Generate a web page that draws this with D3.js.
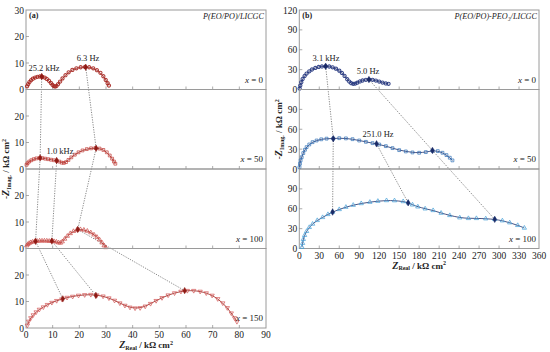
<!DOCTYPE html>
<html>
<head>
<meta charset="utf-8">
<script src="https://cdn.jsdelivr.net/npm/d3@7"></script>
<style>
body { margin: 0; background: #fff; }
</style>
</head>
<body>
<svg id="chart" width="550" height="352" font-family="'Liberation Serif', 'Times New Roman', 'DejaVu Serif', serif"></svg>
<script>
// ---- data (kΩ cm²) ----
// panel (a) P(EO/PO)/LICGC
const a0 = [[0.4,1.2],[0.8,2.0],[1.3,2.8],[1.9,3.5],[2.6,4.1],[3.4,4.5],[4.3,4.8],[5.2,4.9],[6.1,4.8],[7.0,4.5],[7.8,4.0],[8.6,3.3],[9.3,2.5],[9.9,1.8],[10.4,1.3],[10.9,1.1],[11.4,1.3],[12.0,2.0],[12.8,3.0],[13.7,4.2],[14.8,5.4],[16.0,6.5],[17.4,7.4],[18.9,8.0],[20.5,8.4],[22.1,8.5],[23.7,8.4],[25.2,8.0],[26.6,7.3],[27.9,6.3],[29.0,5.0],[29.9,3.6],[30.6,2.4],[31.1,1.5]];
const a50 = [[0.2,1.6],[0.6,2.2],[1.2,2.8],[2.0,3.3],[2.9,3.7],[3.9,4.0],[5.0,4.1],[6.1,4.1],[7.2,3.9],[8.3,3.7],[9.4,3.5],[10.5,3.3],[11.5,3.1],[12.5,2.8],[13.4,2.4],[14.2,2.3],[15.0,2.6],[15.9,3.4],[17.0,4.4],[18.3,5.4],[19.7,6.3],[21.2,7.0],[22.8,7.5],[24.4,7.8],[26.0,7.9],[27.6,7.7],[29.0,7.2],[30.3,6.3],[31.4,5.1],[32.3,3.9],[33.0,2.8],[33.5,2.0]];
const a100 = [[0.3,1.1],[0.7,1.6],[1.2,2.0],[1.8,2.3],[2.5,2.5],[3.3,2.7],[4.2,2.8],[5.1,2.9],[6.0,2.9],[6.9,2.9],[7.8,2.9],[8.7,2.8],[9.6,2.8],[10.5,2.7],[11.4,2.5],[12.2,2.2],[12.9,2.1],[13.6,2.6],[14.5,3.6],[15.5,4.7],[16.6,5.7],[17.8,6.5],[19.1,7.0],[20.4,7.2],[21.7,7.0],[23.0,6.6],[24.3,6.0],[25.5,5.2],[26.6,4.3],[27.6,3.3],[28.5,2.2],[29.3,1.1],[29.9,0.4]];
const a150 = [[0.5,1.0],[1.0,2.5],[1.8,3.8],[2.7,4.9],[3.8,6.0],[5.0,7.0],[6.5,7.9],[8.0,8.8],[9.7,9.6],[11.5,10.3],[13.4,10.9],[15.4,11.5],[17.5,11.9],[19.7,12.3],[22.0,12.5],[24.3,12.6],[26.6,12.4],[28.9,12.0],[31.1,11.3],[33.2,10.4],[35.2,9.4],[37.1,8.5],[39.0,7.8],[40.9,7.5],[42.8,7.6],[44.7,8.2],[46.7,9.2],[48.8,10.3],[51.0,11.4],[53.3,12.4],[55.7,13.2],[58.1,13.8],[60.5,14.1],[62.9,14.1],[65.3,13.8],[67.6,13.2],[69.8,12.3],[71.9,11.0],[73.8,9.4],[75.5,7.6],[77.0,5.6],[78.2,3.8],[79.1,2.4]];

// panel (b) P(EO/PO)-PEO3/LICGC
const b0 = [[0.5,1.5],[1.5,6],[3,11],[5,16],[8,20.5],[11,24],[15,27.5],[19,30.2],[24,32.5],[29,34],[34,34.8],[39.6,35],[45,34.7],[50,33.5],[55,31.5],[60,28.5],[64,25],[68,20.5],[72,15.5],[75,12],[78,9.5],[81,8.6],[84,9.0],[87,10.3],[91,12.2],[95,13.6],[100,14.6],[105,15],[110,14.6],[115,13.5],[120,12],[125,10.5],[130,9.2],[134,8.6]];
const b50 = [[0.3,2.7],[1,8],[2,13],[3.6,17.8],[6,24],[8.5,29],[11,33],[15,37],[20,40.5],[26,43],[33,44.8],[41,45.8],[51,46],[60,46.5],[70,46.2],[80,45],[90,43],[100,41],[110,39],[120,37],[130,34.5],[140,31.5],[150,28.5],[160,26.5],[170,25],[180,24.5],[190,25.5],[200,27.5],[208,27],[215,24.5],[221,21],[226,17],[230,13]];
const b100 = [[4,2],[5,8],[6,14],[8,20],[11,26],[15,32],[20,37],[27,42.5],[35,47],[43,51.5],[50,55],[60,59],[70,62.5],[81,65.5],[93,68],[106,70],[118,71.5],[131,72.5],[143,72.3],[156,71],[163.5,69],[170,66],[178,63],[189,60],[201,57.5],[213,53.5],[226,50],[241,46.5],[254,45.5],[266,45.5],[280,45],[293.5,44],[305,42],[316,39],[328,35],[338,31]];

// characteristic-frequency points: [subplot index, Zre, Zim]
const a25k = [[0,5.9,4.9],[1,5.3,4.2],[2,3.6,2.7],[3,13.8,11.0]];
const a1k = [[1,11.5,3.2],[2,9.7,2.8],[3,26.2,12.3]];
const a6Hz = [[0,22.4,8.4],[1,26.3,7.8],[2,19.4,7.2],[3,59.5,14.1]];
const b3k = [[0,39.6,35],[1,51,45.7],[2,50,55]];
const b251 = [[1,116,38],[2,163.5,69]];
const b5Hz = [[0,104.6,15],[1,200,28],[2,293.5,44]];

const aLabels = ["x = 0", "x = 50", "x = 100", "x = 150"];
const bLabels = ["x = 0", "x = 50", "x = 100"];
const aTicksX = d3.range(0, 91, 10);
const bTicksX = d3.range(0, 361, 30);

const svg = d3.select("#chart");
const frameColor = "#9a9a9a";
const ink = "#222";

const panels = [
  { left: 26, right: 266, top: 10, h: 79.5, xMax: 90, yMax: 30, yStep: 10, xTicks: aTicksX,
    series: [a0, a50, a100, a150], labels: aLabels,
    color: ["#a82822","#c23c36","#cc4a46","#d45656"], dark: "#8e1a14",
    symbols: [d3.symbolCircle, d3.symbolSquare, d3.symbolTriangle, d3.symbolTriangle],
    flip: [false, false, false, true], chains: [a25k, a1k, a6Hz], tag: "(a)", name: "P(EO/PO)/LICGC" },
  { left: 299.3, right: 539, top: 10, h: 79.5, xMax: 360, yMax: 120, yStep: 30, xTicks: bTicksX,
    series: [b0, b50, b100], labels: bLabels,
    color: ["#24357e","#3474b8","#45a0d8"], dark: "#1a2a66",
    symbols: [d3.symbolCircle, d3.symbolSquare, d3.symbolTriangle],
    flip: [false, false, false], chains: [b3k, b251, b5Hz], tag: "(b)", name: "P(EO/PO)-PEO\u2083/LICGC" }
];

panels.forEach(p => {
  const n = p.series.length;
  const x = d3.scaleLinear().domain([0, p.xMax]).range([p.left, p.right]);
  const ys = d3.range(n).map(i => d3.scaleLinear().domain([0, p.yMax])
      .range([p.top + (i + 1) * p.h, p.top + i * p.h]));
  const bottom = p.top + n * p.h;
  const g = svg.append("g");

  // dotted lines linking characteristic frequencies
  p.chains.forEach(c => {
    g.append("path")
      .attr("d", d3.line().x(d => x(d[1])).y(d => ys[d[0]](d[2]))(c))
      .attr("fill", "none").attr("stroke", "#555").attr("stroke-width", 0.7)
      .attr("stroke-dasharray", "1.2,1.3");
  });

  p.series.forEach((pts, i) => {
    const y = ys[i];
    const sg = g.append("g");
    sg.append("rect").attr("x", p.left).attr("y", y.range()[1])
      .attr("width", p.right - p.left).attr("height", p.h)
      .attr("fill", "none").attr("stroke", frameColor).attr("stroke-width", 1);

    // x ticks (inward)
    sg.selectAll(".xt").data(p.xTicks.slice(1, -1)).join("line")
      .attr("x1", d => x(d)).attr("x2", d => x(d))
      .attr("y1", y(0)).attr("y2", y(0) - 3)
      .attr("stroke", "#888").attr("stroke-width", 0.7);
    // y ticks
    const yt = d3.range(0, p.yMax + 0.1, p.yStep);
    sg.selectAll(".yt").data(yt.slice(1, -1)).join("line")
      .attr("x1", p.left).attr("x2", p.left + 3)
      .attr("y1", d => y(d)).attr("y2", d => y(d))
      .attr("stroke", "#888").attr("stroke-width", 0.7);
    sg.selectAll(".yl").data(i === 0 ? yt : yt.slice(0, -1)).join("text")
      .attr("x", p.left - 2).attr("y", d => y(d) + 3.5)
      .attr("text-anchor", "end").attr("font-size", 9.5).attr("fill", ink).text(d => d);

    // fit line
    sg.append("path")
      .attr("d", d3.line().x(d => x(d[0])).y(d => y(d[1])).curve(d3.curveBasis)(pts))
      .attr("fill", "none").attr("stroke", p.dark).attr("stroke-width", 0.8);

    // markers
    const sym = d3.symbol().type(p.symbols[i]).size(8);
    sg.selectAll(".m").data(pts).join("path")
      .attr("d", sym)
      .attr("transform", d => `translate(${x(d[0])},${y(d[1])})${p.flip[i] ? " rotate(180)" : ""}`)
      .attr("fill", "none").attr("stroke", p.color[i]).attr("stroke-width", i === 0 ? 1.1 : 0.8).attr("opacity", 0.9);

    sg.append("text").attr("x", p.right - 3).attr("y", y(0) - 7)
      .attr("text-anchor", "end").attr("font-size", 9).attr("fill", ink)
      .html(`<tspan font-style="italic">x</tspan>${p.labels[i].slice(1)}`);
  });

  // filled characteristic-frequency markers
  p.chains.forEach(c => {
    g.selectAll(null).data(c).join("path")
      .attr("d", d3.symbol().type(d3.symbolDiamond).size(12))
      .attr("transform", d => `translate(${x(d[1])},${ys[d[0]](d[2])})`)
      .attr("fill", p.dark).attr("stroke", p.dark).attr("stroke-width", 0.5);
  });

  // x tick labels
  g.selectAll(".xl").data(p.xTicks).join("text")
    .attr("x", d => x(d)).attr("y", bottom + 10)
    .attr("text-anchor", "middle").attr("font-size", 9.5).attr("fill", ink).text(d => d);

  g.append("text").attr("x", p.left + 3).attr("y", p.top + 8)
    .attr("font-size", 8).attr("font-weight", "bold").attr("fill", ink).text(p.tag);
  g.append("text").attr("x", p.right - 2).attr("y", p.top + 8.5)
    .attr("text-anchor", "end").attr("font-size", 8.2).attr("font-style", "italic").attr("fill", ink).text(p.name);

  // axis titles
  g.append("text").attr("x", (p.left + p.right) / 2).attr("y", bottom + 20)
    .attr("text-anchor", "middle").attr("font-size", 9).attr("font-weight", "bold").attr("fill", ink)
    .html('<tspan font-style="italic" font-size="10">Z</tspan><tspan font-size="6" dy="1.5">Real</tspan><tspan dy="-1.5"> / k\u03A9 cm</tspan><tspan font-size="6" dy="-3.5">2</tspan>');
  const cy = (p.top + bottom) / 2;
  g.append("text").attr("transform", `translate(${p.left - 17},${cy}) rotate(-90)`)
    .attr("text-anchor", "middle").attr("font-size", 9).attr("font-weight", "bold").attr("fill", ink)
    .html('-<tspan font-style="italic" font-size="10">Z</tspan><tspan font-size="6" dy="1.5">Imag.</tspan><tspan dy="-1.5"> / k\u03A9 cm</tspan><tspan font-size="6" dy="-3.5">2</tspan>');
});

// frequency annotations
const notes = [
  { t: "25.2 kHz", x: 44, y: 71 }, { t: "6.3 Hz", x: 88, y: 61 }, { t: "1.0 kHz", x: 60, y: 154 },
  { t: "3.1 kHz", x: 326, y: 61 }, { t: "5.0 Hz", x: 368, y: 74 }, { t: "251.0 Hz", x: 378, y: 137 }
];
svg.selectAll(".note").data(notes).join("text")
  .attr("x", d => d.x).attr("y", d => d.y).attr("text-anchor", "middle")
  .attr("font-size", 8.5).attr("fill", ink).text(d => d.t);
</script>
</body>
</html>
